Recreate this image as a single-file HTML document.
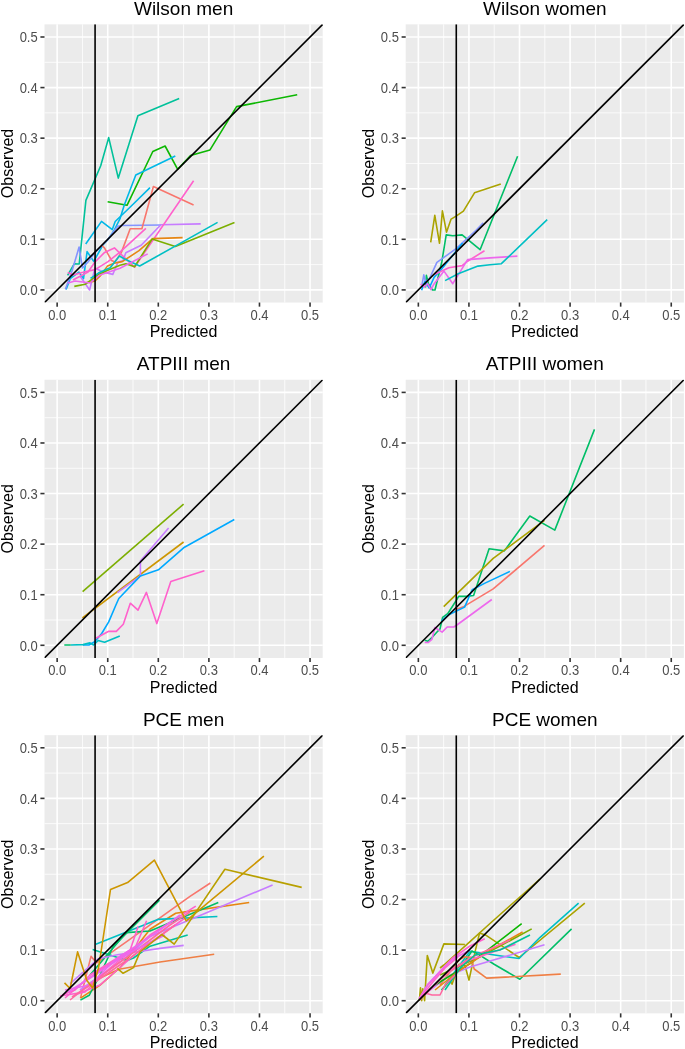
<!DOCTYPE html>
<html><head><meta charset="utf-8"><style>
html,body{margin:0;padding:0;background:#fff;}
svg{display:block;will-change:transform;}
text{font-family:"Liberation Sans",sans-serif;}
.ty{font-size:13px;fill:#4D4D4D;text-anchor:end;}
.tx{font-size:13px;fill:#4D4D4D;text-anchor:middle;}
.at{font-size:16px;fill:#000;text-anchor:middle;}
.tt{font-size:19px;fill:#000;text-anchor:middle;}
</style></head><body>
<svg width="685" height="1049" viewBox="0 0 685 1049">
<defs><clipPath id="cp00"><rect x="44.5" y="24.35" width="278.2" height="278.2"/></clipPath><clipPath id="cp01"><rect x="405.7" y="24.35" width="278.2" height="278.2"/></clipPath><clipPath id="cp10"><rect x="44.5" y="379.75" width="278.2" height="278.2"/></clipPath><clipPath id="cp11"><rect x="405.7" y="379.75" width="278.2" height="278.2"/></clipPath><clipPath id="cp20"><rect x="44.5" y="735.15" width="278.2" height="278.2"/></clipPath><clipPath id="cp21"><rect x="405.7" y="735.15" width="278.2" height="278.2"/></clipPath></defs>
<rect width="685" height="1049" fill="#fff"/>
<rect x="44.5" y="24.35" width="278.2" height="278.2" fill="#EBEBEB"/>
<line x1="82.44" y1="24.35" x2="82.44" y2="302.55" stroke="#fff" stroke-width="0.8"/>
<line x1="44.5" y1="264.61" x2="322.7" y2="264.61" stroke="#fff" stroke-width="0.8"/>
<line x1="133.02" y1="24.35" x2="133.02" y2="302.55" stroke="#fff" stroke-width="0.8"/>
<line x1="44.5" y1="214.03" x2="322.7" y2="214.03" stroke="#fff" stroke-width="0.8"/>
<line x1="183.6" y1="24.35" x2="183.6" y2="302.55" stroke="#fff" stroke-width="0.8"/>
<line x1="44.5" y1="163.45" x2="322.7" y2="163.45" stroke="#fff" stroke-width="0.8"/>
<line x1="234.18" y1="24.35" x2="234.18" y2="302.55" stroke="#fff" stroke-width="0.8"/>
<line x1="44.5" y1="112.87" x2="322.7" y2="112.87" stroke="#fff" stroke-width="0.8"/>
<line x1="284.76" y1="24.35" x2="284.76" y2="302.55" stroke="#fff" stroke-width="0.8"/>
<line x1="44.5" y1="62.29" x2="322.7" y2="62.29" stroke="#fff" stroke-width="0.8"/>
<line x1="57.15" y1="24.35" x2="57.15" y2="302.55" stroke="#fff" stroke-width="1.6"/>
<line x1="44.5" y1="289.9" x2="322.7" y2="289.9" stroke="#fff" stroke-width="1.6"/>
<line x1="107.73" y1="24.35" x2="107.73" y2="302.55" stroke="#fff" stroke-width="1.6"/>
<line x1="44.5" y1="239.32" x2="322.7" y2="239.32" stroke="#fff" stroke-width="1.6"/>
<line x1="158.31" y1="24.35" x2="158.31" y2="302.55" stroke="#fff" stroke-width="1.6"/>
<line x1="44.5" y1="188.74" x2="322.7" y2="188.74" stroke="#fff" stroke-width="1.6"/>
<line x1="208.89" y1="24.35" x2="208.89" y2="302.55" stroke="#fff" stroke-width="1.6"/>
<line x1="44.5" y1="138.16" x2="322.7" y2="138.16" stroke="#fff" stroke-width="1.6"/>
<line x1="259.47" y1="24.35" x2="259.47" y2="302.55" stroke="#fff" stroke-width="1.6"/>
<line x1="44.5" y1="87.58" x2="322.7" y2="87.58" stroke="#fff" stroke-width="1.6"/>
<line x1="310.05" y1="24.35" x2="310.05" y2="302.55" stroke="#fff" stroke-width="1.6"/>
<line x1="44.5" y1="37" x2="322.7" y2="37" stroke="#fff" stroke-width="1.6"/>
<g clip-path="url(#cp00)" fill="none" stroke-width="1.6" stroke-linejoin="round">
<polyline points="67.6,275.4 74.2,263.8 79.2,264 85.9,200.4 100.7,165.8 108.7,137.6 118.3,178.1 137.9,115.8 179.2,98.4" stroke="#00C19A"/>
<polyline points="107.6,201.8 127,205.3 152.8,151.5 165.1,146 177.7,169.3 190.5,155.5 210,149.9 236.6,106.6 297.2,94.8" stroke="#0CB702"/>
<polyline points="66.1,289.5 70.2,278.7 78.9,272.1 83.5,278.7 87.1,251.6 93.7,261.4 102.9,245 108.2,239.3 114.1,230.5 119.9,218.9 124.3,205 135.8,175 175.3,156" stroke="#00B8E7"/>
<polyline points="85.7,244 101.5,221.4 112.3,229.6 115.2,221.5 132.3,205 150,187.6" stroke="#00B8E7"/>
<polyline points="65.4,289.2 72,271 79.1,247.1 82.5,268 88,262 95,252.5 107.5,240 117.7,226.2 122,225.5 160.9,225" stroke="#8494FF"/>
<polyline points="80,276 89.6,290 95,268 103,272 112.8,274.4 118,262 122.9,260.9 125.8,252.8 141.2,245.2 160.9,224.7 200.7,223.9" stroke="#C77CFF"/>
<polyline points="101.5,245 104.6,248.1 111.6,260.5 115,262 121.4,252.4 130.2,228.8 141.9,228.8 153.4,186.5 193.6,204.9" stroke="#F8766D"/>
<polyline points="73,280 88,272 95,262 104.6,252.4 114.4,247.9 134.5,267.2 193.6,180.7" stroke="#FF61CC"/>
<polyline points="67.7,272.6 73.3,275.1 84,272 95.1,269.6 108,261.6 120,252.1 145.9,228.4" stroke="#FF61CC"/>
<polyline points="85.8,282.7 94.5,281.3 100,276.2 107.6,265.9 114.1,263.2 122.2,261.6 139,250.7 152.8,238.6 182.6,237.6" stroke="#E68613"/>
<polyline points="74.3,286.4 85.2,284.3 98.4,274.4 108.9,269.8 120,265.3 125.8,263.8 134.6,266.7 152.1,239 175.3,246.4 234.5,222.4" stroke="#7CAE00"/>
<polyline points="90.5,278.4 98.4,273.1 110.2,267.8 119.4,256 124.6,259 139.7,266 217.6,222.4" stroke="#00BFC4"/>
<polyline points="68,283 75,281 90,283 100,275 120,268.2 147.7,253.9" stroke="#ED68ED"/>
<line x1="44.5" y1="302.55" x2="322.7" y2="24.35" stroke="#000"/>
<line x1="95.08" y1="24.35" x2="95.08" y2="302.55" stroke="#000"/>
</g>
<line x1="40.4" y1="289.9" x2="44.5" y2="289.9" stroke="#333" stroke-width="1.6"/>
<line x1="57.15" y1="302.55" x2="57.15" y2="306.65" stroke="#333" stroke-width="1.6"/>
<text transform="translate(37.7,290.1) scale(1,1.1)" y="4.65" class="ty">0.0</text>
<text transform="translate(57.15,314.7) scale(1,1.1)" y="4.65" class="tx">0.0</text>
<line x1="40.4" y1="239.32" x2="44.5" y2="239.32" stroke="#333" stroke-width="1.6"/>
<line x1="107.73" y1="302.55" x2="107.73" y2="306.65" stroke="#333" stroke-width="1.6"/>
<text transform="translate(37.7,239.52) scale(1,1.1)" y="4.65" class="ty">0.1</text>
<text transform="translate(107.73,314.7) scale(1,1.1)" y="4.65" class="tx">0.1</text>
<line x1="40.4" y1="188.74" x2="44.5" y2="188.74" stroke="#333" stroke-width="1.6"/>
<line x1="158.31" y1="302.55" x2="158.31" y2="306.65" stroke="#333" stroke-width="1.6"/>
<text transform="translate(37.7,188.94) scale(1,1.1)" y="4.65" class="ty">0.2</text>
<text transform="translate(158.31,314.7) scale(1,1.1)" y="4.65" class="tx">0.2</text>
<line x1="40.4" y1="138.16" x2="44.5" y2="138.16" stroke="#333" stroke-width="1.6"/>
<line x1="208.89" y1="302.55" x2="208.89" y2="306.65" stroke="#333" stroke-width="1.6"/>
<text transform="translate(37.7,138.36) scale(1,1.1)" y="4.65" class="ty">0.3</text>
<text transform="translate(208.89,314.7) scale(1,1.1)" y="4.65" class="tx">0.3</text>
<line x1="40.4" y1="87.58" x2="44.5" y2="87.58" stroke="#333" stroke-width="1.6"/>
<line x1="259.47" y1="302.55" x2="259.47" y2="306.65" stroke="#333" stroke-width="1.6"/>
<text transform="translate(37.7,87.78) scale(1,1.1)" y="4.65" class="ty">0.4</text>
<text transform="translate(259.47,314.7) scale(1,1.1)" y="4.65" class="tx">0.4</text>
<line x1="40.4" y1="37" x2="44.5" y2="37" stroke="#333" stroke-width="1.6"/>
<line x1="310.05" y1="302.55" x2="310.05" y2="306.65" stroke="#333" stroke-width="1.6"/>
<text transform="translate(37.7,37.2) scale(1,1.1)" y="4.65" class="ty">0.5</text>
<text transform="translate(310.05,314.7) scale(1,1.1)" y="4.65" class="tx">0.5</text>
<text x="183.6" y="14.7" class="tt">Wilson men</text>
<text x="183.6" y="337.15" class="at">Predicted</text>
<text transform="translate(12.9,163.45) rotate(-90)" class="at">Observed</text>
<rect x="405.7" y="24.35" width="278.2" height="278.2" fill="#EBEBEB"/>
<line x1="443.64" y1="24.35" x2="443.64" y2="302.55" stroke="#fff" stroke-width="0.8"/>
<line x1="405.7" y1="264.61" x2="683.9" y2="264.61" stroke="#fff" stroke-width="0.8"/>
<line x1="494.22" y1="24.35" x2="494.22" y2="302.55" stroke="#fff" stroke-width="0.8"/>
<line x1="405.7" y1="214.03" x2="683.9" y2="214.03" stroke="#fff" stroke-width="0.8"/>
<line x1="544.8" y1="24.35" x2="544.8" y2="302.55" stroke="#fff" stroke-width="0.8"/>
<line x1="405.7" y1="163.45" x2="683.9" y2="163.45" stroke="#fff" stroke-width="0.8"/>
<line x1="595.38" y1="24.35" x2="595.38" y2="302.55" stroke="#fff" stroke-width="0.8"/>
<line x1="405.7" y1="112.87" x2="683.9" y2="112.87" stroke="#fff" stroke-width="0.8"/>
<line x1="645.96" y1="24.35" x2="645.96" y2="302.55" stroke="#fff" stroke-width="0.8"/>
<line x1="405.7" y1="62.29" x2="683.9" y2="62.29" stroke="#fff" stroke-width="0.8"/>
<line x1="418.35" y1="24.35" x2="418.35" y2="302.55" stroke="#fff" stroke-width="1.6"/>
<line x1="405.7" y1="289.9" x2="683.9" y2="289.9" stroke="#fff" stroke-width="1.6"/>
<line x1="468.93" y1="24.35" x2="468.93" y2="302.55" stroke="#fff" stroke-width="1.6"/>
<line x1="405.7" y1="239.32" x2="683.9" y2="239.32" stroke="#fff" stroke-width="1.6"/>
<line x1="519.51" y1="24.35" x2="519.51" y2="302.55" stroke="#fff" stroke-width="1.6"/>
<line x1="405.7" y1="188.74" x2="683.9" y2="188.74" stroke="#fff" stroke-width="1.6"/>
<line x1="570.09" y1="24.35" x2="570.09" y2="302.55" stroke="#fff" stroke-width="1.6"/>
<line x1="405.7" y1="138.16" x2="683.9" y2="138.16" stroke="#fff" stroke-width="1.6"/>
<line x1="620.67" y1="24.35" x2="620.67" y2="302.55" stroke="#fff" stroke-width="1.6"/>
<line x1="405.7" y1="87.58" x2="683.9" y2="87.58" stroke="#fff" stroke-width="1.6"/>
<line x1="671.25" y1="24.35" x2="671.25" y2="302.55" stroke="#fff" stroke-width="1.6"/>
<line x1="405.7" y1="37" x2="683.9" y2="37" stroke="#fff" stroke-width="1.6"/>
<g clip-path="url(#cp01)" fill="none" stroke-width="1.6" stroke-linejoin="round">
<polyline points="430.7,242.4 434.8,215.3 439.5,243.3 442.4,210.9 446.5,232.2 451.1,219.1 456.1,216.1 463.4,211.2 474.5,192.8 500.8,184" stroke="#ABA300"/>
<polyline points="425.5,287.5 426.4,275.4 428.5,284 432.5,290 435,290 441.8,262 446.2,234.9 452.8,235.7 462.1,234.9 480.1,249.7 517.6,156.2" stroke="#00BE67"/>
<polyline points="421.6,287 423.8,274.9 425.4,281.5 429.2,279.3 436.9,262.3 447.8,254.6 456.1,248.6 476.3,230 483.2,222.8" stroke="#8494FF"/>
<polyline points="421.6,290.2 424.9,281.5 429.2,288 434.2,277.1 441.3,269.4 462.6,243.1" stroke="#00A9FF"/>
<polyline points="434.7,274.3 444,270 448.9,267.8 462.1,265.6 467.6,261.2 484.5,250.8" stroke="#FF61CC"/>
<polyline points="420.5,284.2 424.3,286.9 427.6,283.7 430.9,289.7 434.2,283.7 444,271.1 452.8,283.7 467.6,259.6 490,257.9 517.4,256.1" stroke="#ED68ED"/>
<polyline points="445.1,280.6 458.2,273.8 478,266.1 490,264.8 501.4,263.7 547.2,219.6" stroke="#00BFC4"/>
<line x1="405.7" y1="302.55" x2="683.9" y2="24.35" stroke="#000"/>
<line x1="456.28" y1="24.35" x2="456.28" y2="302.55" stroke="#000"/>
</g>
<line x1="401.6" y1="289.9" x2="405.7" y2="289.9" stroke="#333" stroke-width="1.6"/>
<line x1="418.35" y1="302.55" x2="418.35" y2="306.65" stroke="#333" stroke-width="1.6"/>
<text transform="translate(398.9,290.1) scale(1,1.1)" y="4.65" class="ty">0.0</text>
<text transform="translate(418.35,314.7) scale(1,1.1)" y="4.65" class="tx">0.0</text>
<line x1="401.6" y1="239.32" x2="405.7" y2="239.32" stroke="#333" stroke-width="1.6"/>
<line x1="468.93" y1="302.55" x2="468.93" y2="306.65" stroke="#333" stroke-width="1.6"/>
<text transform="translate(398.9,239.52) scale(1,1.1)" y="4.65" class="ty">0.1</text>
<text transform="translate(468.93,314.7) scale(1,1.1)" y="4.65" class="tx">0.1</text>
<line x1="401.6" y1="188.74" x2="405.7" y2="188.74" stroke="#333" stroke-width="1.6"/>
<line x1="519.51" y1="302.55" x2="519.51" y2="306.65" stroke="#333" stroke-width="1.6"/>
<text transform="translate(398.9,188.94) scale(1,1.1)" y="4.65" class="ty">0.2</text>
<text transform="translate(519.51,314.7) scale(1,1.1)" y="4.65" class="tx">0.2</text>
<line x1="401.6" y1="138.16" x2="405.7" y2="138.16" stroke="#333" stroke-width="1.6"/>
<line x1="570.09" y1="302.55" x2="570.09" y2="306.65" stroke="#333" stroke-width="1.6"/>
<text transform="translate(398.9,138.36) scale(1,1.1)" y="4.65" class="ty">0.3</text>
<text transform="translate(570.09,314.7) scale(1,1.1)" y="4.65" class="tx">0.3</text>
<line x1="401.6" y1="87.58" x2="405.7" y2="87.58" stroke="#333" stroke-width="1.6"/>
<line x1="620.67" y1="302.55" x2="620.67" y2="306.65" stroke="#333" stroke-width="1.6"/>
<text transform="translate(398.9,87.78) scale(1,1.1)" y="4.65" class="ty">0.4</text>
<text transform="translate(620.67,314.7) scale(1,1.1)" y="4.65" class="tx">0.4</text>
<line x1="401.6" y1="37" x2="405.7" y2="37" stroke="#333" stroke-width="1.6"/>
<line x1="671.25" y1="302.55" x2="671.25" y2="306.65" stroke="#333" stroke-width="1.6"/>
<text transform="translate(398.9,37.2) scale(1,1.1)" y="4.65" class="ty">0.5</text>
<text transform="translate(671.25,314.7) scale(1,1.1)" y="4.65" class="tx">0.5</text>
<text x="544.8" y="14.7" class="tt">Wilson women</text>
<text x="544.8" y="337.15" class="at">Predicted</text>
<text transform="translate(374.1,163.45) rotate(-90)" class="at">Observed</text>
<rect x="44.5" y="379.75" width="278.2" height="278.2" fill="#EBEBEB"/>
<line x1="82.44" y1="379.75" x2="82.44" y2="657.95" stroke="#fff" stroke-width="0.8"/>
<line x1="44.5" y1="620.01" x2="322.7" y2="620.01" stroke="#fff" stroke-width="0.8"/>
<line x1="133.02" y1="379.75" x2="133.02" y2="657.95" stroke="#fff" stroke-width="0.8"/>
<line x1="44.5" y1="569.43" x2="322.7" y2="569.43" stroke="#fff" stroke-width="0.8"/>
<line x1="183.6" y1="379.75" x2="183.6" y2="657.95" stroke="#fff" stroke-width="0.8"/>
<line x1="44.5" y1="518.85" x2="322.7" y2="518.85" stroke="#fff" stroke-width="0.8"/>
<line x1="234.18" y1="379.75" x2="234.18" y2="657.95" stroke="#fff" stroke-width="0.8"/>
<line x1="44.5" y1="468.27" x2="322.7" y2="468.27" stroke="#fff" stroke-width="0.8"/>
<line x1="284.76" y1="379.75" x2="284.76" y2="657.95" stroke="#fff" stroke-width="0.8"/>
<line x1="44.5" y1="417.69" x2="322.7" y2="417.69" stroke="#fff" stroke-width="0.8"/>
<line x1="57.15" y1="379.75" x2="57.15" y2="657.95" stroke="#fff" stroke-width="1.6"/>
<line x1="44.5" y1="645.3" x2="322.7" y2="645.3" stroke="#fff" stroke-width="1.6"/>
<line x1="107.73" y1="379.75" x2="107.73" y2="657.95" stroke="#fff" stroke-width="1.6"/>
<line x1="44.5" y1="594.72" x2="322.7" y2="594.72" stroke="#fff" stroke-width="1.6"/>
<line x1="158.31" y1="379.75" x2="158.31" y2="657.95" stroke="#fff" stroke-width="1.6"/>
<line x1="44.5" y1="544.14" x2="322.7" y2="544.14" stroke="#fff" stroke-width="1.6"/>
<line x1="208.89" y1="379.75" x2="208.89" y2="657.95" stroke="#fff" stroke-width="1.6"/>
<line x1="44.5" y1="493.56" x2="322.7" y2="493.56" stroke="#fff" stroke-width="1.6"/>
<line x1="259.47" y1="379.75" x2="259.47" y2="657.95" stroke="#fff" stroke-width="1.6"/>
<line x1="44.5" y1="442.98" x2="322.7" y2="442.98" stroke="#fff" stroke-width="1.6"/>
<line x1="310.05" y1="379.75" x2="310.05" y2="657.95" stroke="#fff" stroke-width="1.6"/>
<line x1="44.5" y1="392.4" x2="322.7" y2="392.4" stroke="#fff" stroke-width="1.6"/>
<g clip-path="url(#cp10)" fill="none" stroke-width="1.6" stroke-linejoin="round">
<polyline points="82.6,591.7 183.6,504.1" stroke="#7CAE00"/>
<polyline points="82.4,617.8 183.6,542" stroke="#CD9600"/>
<polyline points="117.4,592.6 140.4,575.9 140.4,561.1 168.6,528.1" stroke="#C77CFF"/>
<polyline points="83,645 88.9,645 94.7,641.7 101.7,633.5 108.7,621.9 115.7,605.5 118.8,598.5 140.4,575.9 158.4,569.8 183.6,547.8 234.3,519.5" stroke="#00A9FF"/>
<polyline points="95.9,638.2 108.7,631.2 116.3,631.4 123.3,624.2 130.3,603.2 138,610.2 146.4,592.4 156.8,623.6 170.8,581.4 204.4,570.8" stroke="#FF61CC"/>
<polyline points="64.3,645 70.8,645" stroke="#00BE67"/>
<polyline points="70.8,645 83,644.6 90,642.9 93.5,645 98.2,640.5 104.6,642.3 119.8,636.1" stroke="#00BFC4"/>
<line x1="44.5" y1="657.95" x2="322.7" y2="379.75" stroke="#000"/>
<line x1="95.08" y1="379.75" x2="95.08" y2="657.95" stroke="#000"/>
</g>
<line x1="40.4" y1="645.3" x2="44.5" y2="645.3" stroke="#333" stroke-width="1.6"/>
<line x1="57.15" y1="657.95" x2="57.15" y2="662.05" stroke="#333" stroke-width="1.6"/>
<text transform="translate(37.7,645.5) scale(1,1.1)" y="4.65" class="ty">0.0</text>
<text transform="translate(57.15,670.1) scale(1,1.1)" y="4.65" class="tx">0.0</text>
<line x1="40.4" y1="594.72" x2="44.5" y2="594.72" stroke="#333" stroke-width="1.6"/>
<line x1="107.73" y1="657.95" x2="107.73" y2="662.05" stroke="#333" stroke-width="1.6"/>
<text transform="translate(37.7,594.92) scale(1,1.1)" y="4.65" class="ty">0.1</text>
<text transform="translate(107.73,670.1) scale(1,1.1)" y="4.65" class="tx">0.1</text>
<line x1="40.4" y1="544.14" x2="44.5" y2="544.14" stroke="#333" stroke-width="1.6"/>
<line x1="158.31" y1="657.95" x2="158.31" y2="662.05" stroke="#333" stroke-width="1.6"/>
<text transform="translate(37.7,544.34) scale(1,1.1)" y="4.65" class="ty">0.2</text>
<text transform="translate(158.31,670.1) scale(1,1.1)" y="4.65" class="tx">0.2</text>
<line x1="40.4" y1="493.56" x2="44.5" y2="493.56" stroke="#333" stroke-width="1.6"/>
<line x1="208.89" y1="657.95" x2="208.89" y2="662.05" stroke="#333" stroke-width="1.6"/>
<text transform="translate(37.7,493.76) scale(1,1.1)" y="4.65" class="ty">0.3</text>
<text transform="translate(208.89,670.1) scale(1,1.1)" y="4.65" class="tx">0.3</text>
<line x1="40.4" y1="442.98" x2="44.5" y2="442.98" stroke="#333" stroke-width="1.6"/>
<line x1="259.47" y1="657.95" x2="259.47" y2="662.05" stroke="#333" stroke-width="1.6"/>
<text transform="translate(37.7,443.18) scale(1,1.1)" y="4.65" class="ty">0.4</text>
<text transform="translate(259.47,670.1) scale(1,1.1)" y="4.65" class="tx">0.4</text>
<line x1="40.4" y1="392.4" x2="44.5" y2="392.4" stroke="#333" stroke-width="1.6"/>
<line x1="310.05" y1="657.95" x2="310.05" y2="662.05" stroke="#333" stroke-width="1.6"/>
<text transform="translate(37.7,392.6) scale(1,1.1)" y="4.65" class="ty">0.5</text>
<text transform="translate(310.05,670.1) scale(1,1.1)" y="4.65" class="tx">0.5</text>
<text x="183.6" y="370.1" class="tt">ATPIII men</text>
<text x="183.6" y="692.55" class="at">Predicted</text>
<text transform="translate(12.9,518.85) rotate(-90)" class="at">Observed</text>
<rect x="405.7" y="379.75" width="278.2" height="278.2" fill="#EBEBEB"/>
<line x1="443.64" y1="379.75" x2="443.64" y2="657.95" stroke="#fff" stroke-width="0.8"/>
<line x1="405.7" y1="620.01" x2="683.9" y2="620.01" stroke="#fff" stroke-width="0.8"/>
<line x1="494.22" y1="379.75" x2="494.22" y2="657.95" stroke="#fff" stroke-width="0.8"/>
<line x1="405.7" y1="569.43" x2="683.9" y2="569.43" stroke="#fff" stroke-width="0.8"/>
<line x1="544.8" y1="379.75" x2="544.8" y2="657.95" stroke="#fff" stroke-width="0.8"/>
<line x1="405.7" y1="518.85" x2="683.9" y2="518.85" stroke="#fff" stroke-width="0.8"/>
<line x1="595.38" y1="379.75" x2="595.38" y2="657.95" stroke="#fff" stroke-width="0.8"/>
<line x1="405.7" y1="468.27" x2="683.9" y2="468.27" stroke="#fff" stroke-width="0.8"/>
<line x1="645.96" y1="379.75" x2="645.96" y2="657.95" stroke="#fff" stroke-width="0.8"/>
<line x1="405.7" y1="417.69" x2="683.9" y2="417.69" stroke="#fff" stroke-width="0.8"/>
<line x1="418.35" y1="379.75" x2="418.35" y2="657.95" stroke="#fff" stroke-width="1.6"/>
<line x1="405.7" y1="645.3" x2="683.9" y2="645.3" stroke="#fff" stroke-width="1.6"/>
<line x1="468.93" y1="379.75" x2="468.93" y2="657.95" stroke="#fff" stroke-width="1.6"/>
<line x1="405.7" y1="594.72" x2="683.9" y2="594.72" stroke="#fff" stroke-width="1.6"/>
<line x1="519.51" y1="379.75" x2="519.51" y2="657.95" stroke="#fff" stroke-width="1.6"/>
<line x1="405.7" y1="544.14" x2="683.9" y2="544.14" stroke="#fff" stroke-width="1.6"/>
<line x1="570.09" y1="379.75" x2="570.09" y2="657.95" stroke="#fff" stroke-width="1.6"/>
<line x1="405.7" y1="493.56" x2="683.9" y2="493.56" stroke="#fff" stroke-width="1.6"/>
<line x1="620.67" y1="379.75" x2="620.67" y2="657.95" stroke="#fff" stroke-width="1.6"/>
<line x1="405.7" y1="442.98" x2="683.9" y2="442.98" stroke="#fff" stroke-width="1.6"/>
<line x1="671.25" y1="379.75" x2="671.25" y2="657.95" stroke="#fff" stroke-width="1.6"/>
<line x1="405.7" y1="392.4" x2="683.9" y2="392.4" stroke="#fff" stroke-width="1.6"/>
<g clip-path="url(#cp11)" fill="none" stroke-width="1.6" stroke-linejoin="round">
<polyline points="424.7,640.3 427.8,641.3 431.3,638.2 437,632 440,629 442.6,617.3 447.7,613.7 455.9,601 458.7,596.4 466.9,596.4 473.6,595.5 489.1,548.7 504.3,550.9 529.8,516 554.8,530.1 594.5,429.4" stroke="#00BE67"/>
<polyline points="443.7,606.6 493.2,558.4 544.5,520.4" stroke="#ABA300"/>
<polyline points="455.9,609.6 464.1,606.4 493.2,588.9 544.5,545.4" stroke="#F8766D"/>
<polyline points="441.6,620.9 448.7,614.7 456.9,610.7 464.6,607.1 472.2,589.7 485,583.1 509.9,571.4" stroke="#00A9FF"/>
<polyline points="424.7,642.5 428.3,642.5 431.9,639.3 434.9,627.5 442.1,632.1 447.2,627 453.8,627 456.9,625 491.8,599.5" stroke="#ED68ED"/>
<line x1="405.7" y1="657.95" x2="683.9" y2="379.75" stroke="#000"/>
<line x1="456.28" y1="379.75" x2="456.28" y2="657.95" stroke="#000"/>
</g>
<line x1="401.6" y1="645.3" x2="405.7" y2="645.3" stroke="#333" stroke-width="1.6"/>
<line x1="418.35" y1="657.95" x2="418.35" y2="662.05" stroke="#333" stroke-width="1.6"/>
<text transform="translate(398.9,645.5) scale(1,1.1)" y="4.65" class="ty">0.0</text>
<text transform="translate(418.35,670.1) scale(1,1.1)" y="4.65" class="tx">0.0</text>
<line x1="401.6" y1="594.72" x2="405.7" y2="594.72" stroke="#333" stroke-width="1.6"/>
<line x1="468.93" y1="657.95" x2="468.93" y2="662.05" stroke="#333" stroke-width="1.6"/>
<text transform="translate(398.9,594.92) scale(1,1.1)" y="4.65" class="ty">0.1</text>
<text transform="translate(468.93,670.1) scale(1,1.1)" y="4.65" class="tx">0.1</text>
<line x1="401.6" y1="544.14" x2="405.7" y2="544.14" stroke="#333" stroke-width="1.6"/>
<line x1="519.51" y1="657.95" x2="519.51" y2="662.05" stroke="#333" stroke-width="1.6"/>
<text transform="translate(398.9,544.34) scale(1,1.1)" y="4.65" class="ty">0.2</text>
<text transform="translate(519.51,670.1) scale(1,1.1)" y="4.65" class="tx">0.2</text>
<line x1="401.6" y1="493.56" x2="405.7" y2="493.56" stroke="#333" stroke-width="1.6"/>
<line x1="570.09" y1="657.95" x2="570.09" y2="662.05" stroke="#333" stroke-width="1.6"/>
<text transform="translate(398.9,493.76) scale(1,1.1)" y="4.65" class="ty">0.3</text>
<text transform="translate(570.09,670.1) scale(1,1.1)" y="4.65" class="tx">0.3</text>
<line x1="401.6" y1="442.98" x2="405.7" y2="442.98" stroke="#333" stroke-width="1.6"/>
<line x1="620.67" y1="657.95" x2="620.67" y2="662.05" stroke="#333" stroke-width="1.6"/>
<text transform="translate(398.9,443.18) scale(1,1.1)" y="4.65" class="ty">0.4</text>
<text transform="translate(620.67,670.1) scale(1,1.1)" y="4.65" class="tx">0.4</text>
<line x1="401.6" y1="392.4" x2="405.7" y2="392.4" stroke="#333" stroke-width="1.6"/>
<line x1="671.25" y1="657.95" x2="671.25" y2="662.05" stroke="#333" stroke-width="1.6"/>
<text transform="translate(398.9,392.6) scale(1,1.1)" y="4.65" class="ty">0.5</text>
<text transform="translate(671.25,670.1) scale(1,1.1)" y="4.65" class="tx">0.5</text>
<text x="544.8" y="370.1" class="tt">ATPIII women</text>
<text x="544.8" y="692.55" class="at">Predicted</text>
<text transform="translate(374.1,518.85) rotate(-90)" class="at">Observed</text>
<rect x="44.5" y="735.15" width="278.2" height="278.2" fill="#EBEBEB"/>
<line x1="82.44" y1="735.15" x2="82.44" y2="1013.35" stroke="#fff" stroke-width="0.8"/>
<line x1="44.5" y1="975.41" x2="322.7" y2="975.41" stroke="#fff" stroke-width="0.8"/>
<line x1="133.02" y1="735.15" x2="133.02" y2="1013.35" stroke="#fff" stroke-width="0.8"/>
<line x1="44.5" y1="924.83" x2="322.7" y2="924.83" stroke="#fff" stroke-width="0.8"/>
<line x1="183.6" y1="735.15" x2="183.6" y2="1013.35" stroke="#fff" stroke-width="0.8"/>
<line x1="44.5" y1="874.25" x2="322.7" y2="874.25" stroke="#fff" stroke-width="0.8"/>
<line x1="234.18" y1="735.15" x2="234.18" y2="1013.35" stroke="#fff" stroke-width="0.8"/>
<line x1="44.5" y1="823.67" x2="322.7" y2="823.67" stroke="#fff" stroke-width="0.8"/>
<line x1="284.76" y1="735.15" x2="284.76" y2="1013.35" stroke="#fff" stroke-width="0.8"/>
<line x1="44.5" y1="773.09" x2="322.7" y2="773.09" stroke="#fff" stroke-width="0.8"/>
<line x1="57.15" y1="735.15" x2="57.15" y2="1013.35" stroke="#fff" stroke-width="1.6"/>
<line x1="44.5" y1="1000.7" x2="322.7" y2="1000.7" stroke="#fff" stroke-width="1.6"/>
<line x1="107.73" y1="735.15" x2="107.73" y2="1013.35" stroke="#fff" stroke-width="1.6"/>
<line x1="44.5" y1="950.12" x2="322.7" y2="950.12" stroke="#fff" stroke-width="1.6"/>
<line x1="158.31" y1="735.15" x2="158.31" y2="1013.35" stroke="#fff" stroke-width="1.6"/>
<line x1="44.5" y1="899.54" x2="322.7" y2="899.54" stroke="#fff" stroke-width="1.6"/>
<line x1="208.89" y1="735.15" x2="208.89" y2="1013.35" stroke="#fff" stroke-width="1.6"/>
<line x1="44.5" y1="848.96" x2="322.7" y2="848.96" stroke="#fff" stroke-width="1.6"/>
<line x1="259.47" y1="735.15" x2="259.47" y2="1013.35" stroke="#fff" stroke-width="1.6"/>
<line x1="44.5" y1="798.38" x2="322.7" y2="798.38" stroke="#fff" stroke-width="1.6"/>
<line x1="310.05" y1="735.15" x2="310.05" y2="1013.35" stroke="#fff" stroke-width="1.6"/>
<line x1="44.5" y1="747.8" x2="322.7" y2="747.8" stroke="#fff" stroke-width="1.6"/>
<g clip-path="url(#cp20)" fill="none" stroke-width="1.6" stroke-linejoin="round">
<polyline points="80.5,998.1 91,956.4 96.6,962.8 126.3,941.8 190,896.4 210.4,883" stroke="#F8766D"/>
<polyline points="100,978 119,969.2 160,962 214.2,954.2" stroke="#EF7F45"/>
<polyline points="80.5,998.1 99.8,985.3 120.7,967 150,929.3 175.7,913.3 191.8,910.9 249.2,902.5" stroke="#E68613"/>
<polyline points="95.8,944.3 157.8,919.4 217.4,916.5" stroke="#00BFC4"/>
<polyline points="92.6,949.6 127.1,960.4 133.5,958 150,946.2 187.7,935" stroke="#00C19A"/>
<polyline points="80.4,1000.1 89.2,995.3 92,990 100,975 113.1,946.6 159.5,900.1" stroke="#00BE67"/>
<polyline points="90,975 126.3,932.6 150,931 218.3,902.5" stroke="#00BE67"/>
<polyline points="70.1,983.7 98.2,958.8 117.4,954.8 160,948.4 183.7,945.4" stroke="#C77CFF"/>
<polyline points="80,990 120,962 150,936.6 200,915.5 272.6,885" stroke="#C77CFF"/>
<polyline points="62,995 75,990 90,975 130.2,950 138.1,926.6" stroke="#FF61CC"/>
<polyline points="65,998 80,985 100,970 134.2,950 146.6,920.7" stroke="#FF61CC"/>
<polyline points="60,996 85,992 110,968 150,935 195.8,906.1" stroke="#FF61CC"/>
<polyline points="70,1000 95,980 130,955 170,925 190,912" stroke="#FF68A1"/>
<polyline points="75,995 100,985 140,950 185,918" stroke="#FF61CC"/>
<polyline points="65,990 90,985 115,960 160,930 180,915" stroke="#ED68ED"/>
<polyline points="68,992 95,975 125,955 165,935" stroke="#ED68ED"/>
<polyline points="72,997 98,980 130,958 175,925" stroke="#FF68A1"/>
<polyline points="64.5,982.9 70.1,988.5 77.6,951.9 86.9,980.5 92.6,988 98.5,968 101.3,950 110.5,889.5 127.6,882.6 154.4,860.1 186.2,920.8 263.9,856.1" stroke="#CD9600"/>
<polyline points="117.4,968.4 123.1,973.3 133.5,967.6 140,952 161.8,934.5 174.2,944.1 224.9,869.2 301.7,887.4" stroke="#B8A000"/>
<line x1="44.5" y1="1013.35" x2="322.7" y2="735.15" stroke="#000"/>
<line x1="95.08" y1="735.15" x2="95.08" y2="1013.35" stroke="#000"/>
</g>
<line x1="40.4" y1="1000.7" x2="44.5" y2="1000.7" stroke="#333" stroke-width="1.6"/>
<line x1="57.15" y1="1013.35" x2="57.15" y2="1017.45" stroke="#333" stroke-width="1.6"/>
<text transform="translate(37.7,1000.9) scale(1,1.1)" y="4.65" class="ty">0.0</text>
<text transform="translate(57.15,1025.5) scale(1,1.1)" y="4.65" class="tx">0.0</text>
<line x1="40.4" y1="950.12" x2="44.5" y2="950.12" stroke="#333" stroke-width="1.6"/>
<line x1="107.73" y1="1013.35" x2="107.73" y2="1017.45" stroke="#333" stroke-width="1.6"/>
<text transform="translate(37.7,950.32) scale(1,1.1)" y="4.65" class="ty">0.1</text>
<text transform="translate(107.73,1025.5) scale(1,1.1)" y="4.65" class="tx">0.1</text>
<line x1="40.4" y1="899.54" x2="44.5" y2="899.54" stroke="#333" stroke-width="1.6"/>
<line x1="158.31" y1="1013.35" x2="158.31" y2="1017.45" stroke="#333" stroke-width="1.6"/>
<text transform="translate(37.7,899.74) scale(1,1.1)" y="4.65" class="ty">0.2</text>
<text transform="translate(158.31,1025.5) scale(1,1.1)" y="4.65" class="tx">0.2</text>
<line x1="40.4" y1="848.96" x2="44.5" y2="848.96" stroke="#333" stroke-width="1.6"/>
<line x1="208.89" y1="1013.35" x2="208.89" y2="1017.45" stroke="#333" stroke-width="1.6"/>
<text transform="translate(37.7,849.16) scale(1,1.1)" y="4.65" class="ty">0.3</text>
<text transform="translate(208.89,1025.5) scale(1,1.1)" y="4.65" class="tx">0.3</text>
<line x1="40.4" y1="798.38" x2="44.5" y2="798.38" stroke="#333" stroke-width="1.6"/>
<line x1="259.47" y1="1013.35" x2="259.47" y2="1017.45" stroke="#333" stroke-width="1.6"/>
<text transform="translate(37.7,798.58) scale(1,1.1)" y="4.65" class="ty">0.4</text>
<text transform="translate(259.47,1025.5) scale(1,1.1)" y="4.65" class="tx">0.4</text>
<line x1="40.4" y1="747.8" x2="44.5" y2="747.8" stroke="#333" stroke-width="1.6"/>
<line x1="310.05" y1="1013.35" x2="310.05" y2="1017.45" stroke="#333" stroke-width="1.6"/>
<text transform="translate(37.7,748) scale(1,1.1)" y="4.65" class="ty">0.5</text>
<text transform="translate(310.05,1025.5) scale(1,1.1)" y="4.65" class="tx">0.5</text>
<text x="183.6" y="725.5" class="tt">PCE men</text>
<text x="183.6" y="1047.95" class="at">Predicted</text>
<text transform="translate(12.9,874.25) rotate(-90)" class="at">Observed</text>
<rect x="405.7" y="735.15" width="278.2" height="278.2" fill="#EBEBEB"/>
<line x1="443.64" y1="735.15" x2="443.64" y2="1013.35" stroke="#fff" stroke-width="0.8"/>
<line x1="405.7" y1="975.41" x2="683.9" y2="975.41" stroke="#fff" stroke-width="0.8"/>
<line x1="494.22" y1="735.15" x2="494.22" y2="1013.35" stroke="#fff" stroke-width="0.8"/>
<line x1="405.7" y1="924.83" x2="683.9" y2="924.83" stroke="#fff" stroke-width="0.8"/>
<line x1="544.8" y1="735.15" x2="544.8" y2="1013.35" stroke="#fff" stroke-width="0.8"/>
<line x1="405.7" y1="874.25" x2="683.9" y2="874.25" stroke="#fff" stroke-width="0.8"/>
<line x1="595.38" y1="735.15" x2="595.38" y2="1013.35" stroke="#fff" stroke-width="0.8"/>
<line x1="405.7" y1="823.67" x2="683.9" y2="823.67" stroke="#fff" stroke-width="0.8"/>
<line x1="645.96" y1="735.15" x2="645.96" y2="1013.35" stroke="#fff" stroke-width="0.8"/>
<line x1="405.7" y1="773.09" x2="683.9" y2="773.09" stroke="#fff" stroke-width="0.8"/>
<line x1="418.35" y1="735.15" x2="418.35" y2="1013.35" stroke="#fff" stroke-width="1.6"/>
<line x1="405.7" y1="1000.7" x2="683.9" y2="1000.7" stroke="#fff" stroke-width="1.6"/>
<line x1="468.93" y1="735.15" x2="468.93" y2="1013.35" stroke="#fff" stroke-width="1.6"/>
<line x1="405.7" y1="950.12" x2="683.9" y2="950.12" stroke="#fff" stroke-width="1.6"/>
<line x1="519.51" y1="735.15" x2="519.51" y2="1013.35" stroke="#fff" stroke-width="1.6"/>
<line x1="405.7" y1="899.54" x2="683.9" y2="899.54" stroke="#fff" stroke-width="1.6"/>
<line x1="570.09" y1="735.15" x2="570.09" y2="1013.35" stroke="#fff" stroke-width="1.6"/>
<line x1="405.7" y1="848.96" x2="683.9" y2="848.96" stroke="#fff" stroke-width="1.6"/>
<line x1="620.67" y1="735.15" x2="620.67" y2="1013.35" stroke="#fff" stroke-width="1.6"/>
<line x1="405.7" y1="798.38" x2="683.9" y2="798.38" stroke="#fff" stroke-width="1.6"/>
<line x1="671.25" y1="735.15" x2="671.25" y2="1013.35" stroke="#fff" stroke-width="1.6"/>
<line x1="405.7" y1="747.8" x2="683.9" y2="747.8" stroke="#fff" stroke-width="1.6"/>
<g clip-path="url(#cp21)" fill="none" stroke-width="1.6" stroke-linejoin="round">
<polyline points="419.3,1000.6 420.5,987.7 421.7,1000.6 422.8,988.9 424.6,1000.6 427.3,955.6 432.8,973.1 443.9,943.9 464.9,944.5" stroke="#ABA300"/>
<polyline points="440,968 443.9,965 470,941.7 490,923.5 527.8,890 539.9,879.2" stroke="#ABA300"/>
<polyline points="448.5,978.4 452,984.2 459,964.4 464.9,965.5 469,980.1 475.4,950.4 479.6,932.9 485.8,935.2 519.1,957.5 584.8,903.1" stroke="#ABA300"/>
<polyline points="445,985 470,951.3 492.8,954.8 519.1,958.5 540.1,937.3 578.6,903.1" stroke="#00BFC4"/>
<polyline points="441.5,990 459,970.2 471.9,951 477.7,953.9 494.5,964.5 519.9,979.3 571.6,928.9" stroke="#00BE67"/>
<polyline points="440,985 459,959.7 464.9,956.8 470.7,957.4 474.2,969 486.6,978.1 560.8,974.1" stroke="#EF7F45"/>
<polyline points="430,990 450,975 470,967.1 544.5,944.8" stroke="#C77CFF"/>
<polyline points="435,985 470,963.6 521.7,923.6" stroke="#0CB702"/>
<polyline points="440,975 480.5,956.6 531.7,928.9" stroke="#7CAE00"/>
<polyline points="435,990 460,970 491,949.6 522.6,932" stroke="#E68613"/>
<polyline points="420,998 427.5,985.4 452,958.5 470,946 484.7,938.7" stroke="#FF61CC"/>
<polyline points="425,995 450,970 470,960 515.5,944.3" stroke="#FF61CC"/>
<polyline points="422,997 445,975 470,958 510,940" stroke="#FF68A1"/>
<polyline points="445,990 460,968 475,955 500,950 530,935" stroke="#00C19A"/>
<polyline points="420,1000 425,993 432,995 440,995 445,985 455,975" stroke="#FF68A1"/>
<polyline points="419,999 428,984 445,966 455,958 470,950" stroke="#ED68ED"/>
<polyline points="421,997 432,983 445,968 458,957" stroke="#FF61CC"/>
<line x1="405.7" y1="1013.35" x2="683.9" y2="735.15" stroke="#000"/>
<line x1="456.28" y1="735.15" x2="456.28" y2="1013.35" stroke="#000"/>
</g>
<line x1="401.6" y1="1000.7" x2="405.7" y2="1000.7" stroke="#333" stroke-width="1.6"/>
<line x1="418.35" y1="1013.35" x2="418.35" y2="1017.45" stroke="#333" stroke-width="1.6"/>
<text transform="translate(398.9,1000.9) scale(1,1.1)" y="4.65" class="ty">0.0</text>
<text transform="translate(418.35,1025.5) scale(1,1.1)" y="4.65" class="tx">0.0</text>
<line x1="401.6" y1="950.12" x2="405.7" y2="950.12" stroke="#333" stroke-width="1.6"/>
<line x1="468.93" y1="1013.35" x2="468.93" y2="1017.45" stroke="#333" stroke-width="1.6"/>
<text transform="translate(398.9,950.32) scale(1,1.1)" y="4.65" class="ty">0.1</text>
<text transform="translate(468.93,1025.5) scale(1,1.1)" y="4.65" class="tx">0.1</text>
<line x1="401.6" y1="899.54" x2="405.7" y2="899.54" stroke="#333" stroke-width="1.6"/>
<line x1="519.51" y1="1013.35" x2="519.51" y2="1017.45" stroke="#333" stroke-width="1.6"/>
<text transform="translate(398.9,899.74) scale(1,1.1)" y="4.65" class="ty">0.2</text>
<text transform="translate(519.51,1025.5) scale(1,1.1)" y="4.65" class="tx">0.2</text>
<line x1="401.6" y1="848.96" x2="405.7" y2="848.96" stroke="#333" stroke-width="1.6"/>
<line x1="570.09" y1="1013.35" x2="570.09" y2="1017.45" stroke="#333" stroke-width="1.6"/>
<text transform="translate(398.9,849.16) scale(1,1.1)" y="4.65" class="ty">0.3</text>
<text transform="translate(570.09,1025.5) scale(1,1.1)" y="4.65" class="tx">0.3</text>
<line x1="401.6" y1="798.38" x2="405.7" y2="798.38" stroke="#333" stroke-width="1.6"/>
<line x1="620.67" y1="1013.35" x2="620.67" y2="1017.45" stroke="#333" stroke-width="1.6"/>
<text transform="translate(398.9,798.58) scale(1,1.1)" y="4.65" class="ty">0.4</text>
<text transform="translate(620.67,1025.5) scale(1,1.1)" y="4.65" class="tx">0.4</text>
<line x1="401.6" y1="747.8" x2="405.7" y2="747.8" stroke="#333" stroke-width="1.6"/>
<line x1="671.25" y1="1013.35" x2="671.25" y2="1017.45" stroke="#333" stroke-width="1.6"/>
<text transform="translate(398.9,748) scale(1,1.1)" y="4.65" class="ty">0.5</text>
<text transform="translate(671.25,1025.5) scale(1,1.1)" y="4.65" class="tx">0.5</text>
<text x="544.8" y="725.5" class="tt">PCE women</text>
<text x="544.8" y="1047.95" class="at">Predicted</text>
<text transform="translate(374.1,874.25) rotate(-90)" class="at">Observed</text>
</svg>
</body></html>
